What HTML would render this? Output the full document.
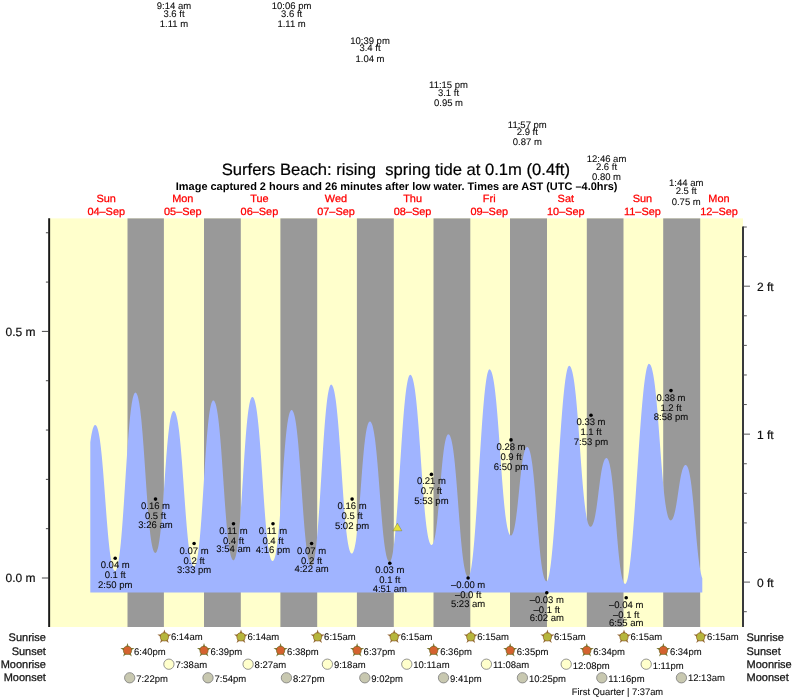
<!DOCTYPE html>
<html lang="en"><head><meta charset="utf-8"><title>Surfers Beach tide times</title>
<style>html,body{margin:0;padding:0;background:#fff}body{width:793px;height:699px;overflow:hidden}svg{display:block}text{font-family:"Liberation Sans",sans-serif;text-rendering:geometricPrecision}.s{font-size:9.5px;fill:#0a0a0a;stroke:#0a0a0a;stroke-width:.08px}.ax{font-size:12px;fill:#111;stroke:#111;stroke-width:.2px}.r{font-size:11px;fill:#111;stroke:#111;stroke-width:.25px}.d{font-size:10.5px;fill:#ff0000;stroke:#ff0000;stroke-width:.25px}</style></head><body>
<svg width="793" height="699" viewBox="0 0 793 699">
<rect width="793" height="699" fill="#fff"/>
<rect x="49.15" y="218.4" width="693.85" height="408.6" fill="#ffffcc"/>
<rect x="127.5" y="218.4" width="36.4" height="408.6" fill="#999999"/>
<rect x="204.0" y="218.4" width="36.8" height="408.6" fill="#999999"/>
<rect x="280.4" y="218.4" width="36.8" height="408.6" fill="#999999"/>
<rect x="356.9" y="218.4" width="36.9" height="408.6" fill="#999999"/>
<rect x="433.5" y="218.4" width="36.8" height="408.6" fill="#999999"/>
<rect x="510.0" y="218.4" width="37.0" height="408.6" fill="#999999"/>
<rect x="586.8" y="218.4" width="36.7" height="408.6" fill="#999999"/>
<rect x="663.2" y="218.4" width="37.0" height="408.6" fill="#999999"/>
<path d="M90.3,592.6 L90.3,442.3 L90.8,438.7 L91.3,435.6 L91.8,432.9 L92.3,430.7 L92.8,428.8 L93.3,427.4 L93.8,426.3 L94.3,425.5 L94.8,425.1 L95.3,425.0 L95.8,425.2 L96.3,425.7 L96.8,426.6 L97.3,427.8 L97.8,429.3 L98.3,431.2 L98.8,433.5 L99.3,436.2 L99.8,439.3 L100.3,442.9 L100.8,446.9 L101.3,451.4 L101.8,456.3 L102.3,461.7 L102.8,467.4 L103.3,473.5 L103.8,479.9 L104.3,486.5 L104.8,493.2 L105.3,500.0 L105.8,506.8 L106.3,513.4 L106.8,519.9 L107.3,526.1 L107.8,532.0 L108.3,537.5 L108.8,542.6 L109.3,547.3 L109.8,551.5 L110.3,555.2 L110.8,558.5 L111.3,561.4 L111.8,563.8 L112.3,565.9 L112.8,567.6 L113.3,568.9 L113.8,569.9 L114.3,570.5 L114.8,570.8 L115.3,570.9 L115.8,570.5 L116.3,569.7 L116.8,568.6 L117.3,567.0 L117.8,565.0 L118.3,562.5 L118.8,559.5 L119.3,556.1 L119.8,552.2 L120.3,547.8 L120.8,542.9 L121.3,537.5 L121.8,531.6 L122.3,525.3 L122.8,518.6 L123.3,511.5 L123.8,504.2 L124.3,496.6 L124.8,488.8 L125.3,481.0 L125.8,473.1 L126.3,465.4 L126.8,457.8 L127.3,450.5 L127.8,443.5 L128.3,436.9 L128.8,430.7 L129.3,424.9 L129.8,419.6 L130.3,414.8 L130.8,410.5 L131.3,406.7 L131.8,403.3 L132.3,400.5 L132.8,398.1 L133.3,396.2 L133.8,394.7 L134.3,393.6 L134.8,392.9 L135.3,392.6 L135.8,392.7 L136.3,393.1 L136.8,393.9 L137.3,395.1 L137.8,396.6 L138.3,398.5 L138.8,400.9 L139.3,403.6 L139.8,406.9 L140.3,410.6 L140.8,414.9 L141.3,419.6 L141.8,424.8 L142.3,430.5 L142.8,436.7 L143.3,443.2 L143.8,450.1 L144.3,457.3 L144.8,464.6 L145.3,472.1 L145.8,479.5 L146.3,486.9 L146.8,494.1 L147.3,501.0 L147.8,507.7 L148.3,513.9 L148.8,519.7 L149.3,525.0 L149.8,529.8 L150.3,534.2 L150.8,538.0 L151.3,541.4 L151.8,544.2 L152.3,546.7 L152.8,548.7 L153.3,550.3 L153.8,551.5 L154.3,552.3 L154.8,552.8 L155.3,553.0 L155.8,552.8 L156.3,552.3 L156.8,551.4 L157.3,550.1 L157.8,548.5 L158.3,546.4 L158.8,543.8 L159.3,540.8 L159.8,537.3 L160.3,533.2 L160.8,528.7 L161.3,523.6 L161.8,518.1 L162.3,512.1 L162.8,505.7 L163.3,498.9 L163.8,492.0 L164.3,484.9 L164.8,477.7 L165.3,470.6 L165.8,463.7 L166.3,457.0 L166.8,450.7 L167.3,444.8 L167.8,439.3 L168.3,434.4 L168.8,429.9 L169.3,426.0 L169.8,422.6 L170.3,419.6 L170.8,417.2 L171.3,415.2 L171.8,413.6 L172.3,412.4 L172.8,411.6 L173.3,411.1 L173.8,411.0 L174.3,411.2 L174.8,411.8 L175.3,412.6 L175.8,413.8 L176.3,415.3 L176.8,417.3 L177.3,419.6 L177.8,422.3 L178.3,425.5 L178.8,429.1 L179.3,433.1 L179.8,437.7 L180.3,442.7 L180.8,448.1 L181.3,453.9 L181.8,460.1 L182.3,466.6 L182.8,473.4 L183.3,480.3 L183.8,487.4 L184.3,494.4 L184.8,501.4 L185.3,508.3 L185.8,514.9 L186.3,521.2 L186.8,527.2 L187.3,532.8 L187.8,538.0 L188.3,542.7 L188.8,547.0 L189.3,550.8 L189.8,554.1 L190.3,557.0 L190.8,559.5 L191.3,561.5 L191.8,563.2 L192.3,564.6 L192.8,565.5 L193.3,566.2 L193.8,566.5 L194.3,566.6 L194.8,566.2 L195.3,565.5 L195.8,564.3 L196.3,562.8 L196.8,560.8 L197.3,558.3 L197.8,555.3 L198.3,551.8 L198.8,547.8 L199.3,543.3 L199.8,538.2 L200.3,532.5 L200.8,526.4 L201.3,519.8 L201.8,512.7 L202.3,505.3 L202.8,497.7 L203.3,489.8 L203.8,481.9 L204.3,474.0 L204.8,466.2 L205.3,458.7 L205.8,451.4 L206.3,444.5 L206.8,438.1 L207.3,432.1 L207.8,426.7 L208.3,421.8 L208.8,417.5 L209.3,413.7 L209.8,410.4 L210.3,407.7 L210.8,405.4 L211.3,403.6 L211.8,402.2 L212.3,401.2 L212.8,400.6 L213.3,400.4 L213.8,400.6 L214.3,401.1 L214.8,401.9 L215.3,403.1 L215.8,404.6 L216.3,406.6 L216.8,409.0 L217.3,411.8 L217.8,415.0 L218.3,418.8 L218.8,423.0 L219.3,427.7 L219.8,432.9 L220.3,438.6 L220.8,444.6 L221.3,451.1 L221.8,457.9 L222.3,465.0 L222.8,472.3 L223.3,479.6 L223.8,487.0 L224.3,494.3 L224.8,501.4 L225.3,508.2 L225.8,514.8 L226.3,521.0 L226.8,526.7 L227.3,532.0 L227.8,536.8 L228.3,541.1 L228.8,545.0 L229.3,548.3 L229.8,551.2 L230.3,553.7 L230.8,555.7 L231.3,557.3 L231.8,558.6 L232.3,559.5 L232.8,560.1 L233.3,560.3 L233.8,560.2 L234.3,559.7 L234.8,558.8 L235.3,557.5 L235.8,555.8 L236.3,553.6 L236.8,550.9 L237.3,547.8 L237.8,544.1 L238.3,539.8 L238.8,535.1 L239.3,529.7 L239.8,523.8 L240.3,517.5 L240.8,510.6 L241.3,503.4 L241.8,495.9 L242.3,488.1 L242.8,480.2 L243.3,472.3 L243.8,464.4 L244.3,456.8 L244.8,449.4 L245.3,442.4 L245.8,435.8 L246.3,429.8 L246.8,424.2 L247.3,419.2 L247.8,414.8 L248.3,410.8 L248.8,407.5 L249.3,404.6 L249.8,402.3 L250.3,400.3 L250.8,398.9 L251.3,397.8 L251.8,397.2 L252.3,396.9 L252.8,397.0 L253.3,397.5 L253.8,398.2 L254.3,399.4 L254.8,400.9 L255.3,402.9 L255.8,405.2 L256.3,408.0 L256.8,411.2 L257.3,415.0 L257.8,419.2 L258.3,423.9 L258.8,429.1 L259.3,434.7 L259.8,440.8 L260.3,447.3 L260.8,454.1 L261.3,461.2 L261.8,468.6 L262.3,476.0 L262.8,483.5 L263.3,490.9 L263.8,498.2 L264.3,505.3 L264.8,512.0 L265.3,518.5 L265.8,524.5 L266.3,530.0 L266.8,535.1 L267.3,539.7 L267.8,543.8 L268.3,547.4 L268.8,550.6 L269.3,553.3 L269.8,555.6 L270.3,557.4 L270.8,558.9 L271.3,559.9 L271.8,560.7 L272.3,561.0 L272.8,561.1 L273.3,560.8 L273.8,560.1 L274.3,559.1 L274.8,557.6 L275.3,555.8 L275.8,553.6 L276.3,550.8 L276.8,547.6 L277.3,544.0 L277.8,539.7 L278.3,535.0 L278.8,529.8 L279.3,524.1 L279.8,517.9 L280.3,511.3 L280.8,504.4 L281.3,497.3 L281.8,490.0 L282.3,482.6 L282.8,475.3 L283.3,468.1 L283.8,461.1 L284.3,454.5 L284.8,448.2 L285.3,442.4 L285.8,437.1 L286.3,432.3 L286.8,427.9 L287.3,424.1 L287.8,420.9 L288.3,418.0 L288.8,415.7 L289.3,413.8 L289.8,412.3 L290.3,411.2 L290.8,410.4 L291.3,410.1 L291.8,410.0 L292.3,410.3 L292.8,410.9 L293.3,411.9 L293.8,413.3 L294.3,415.0 L294.8,417.1 L295.3,419.6 L295.8,422.6 L296.3,426.0 L296.8,429.9 L297.3,434.4 L297.8,439.3 L298.3,444.6 L298.8,450.4 L299.3,456.7 L299.8,463.2 L300.3,470.1 L300.8,477.2 L301.3,484.4 L301.8,491.7 L302.3,498.9 L302.8,506.0 L303.3,512.9 L303.8,519.4 L304.3,525.7 L304.8,531.5 L305.3,536.8 L305.8,541.7 L306.3,546.2 L306.8,550.1 L307.3,553.5 L307.8,556.5 L308.3,559.0 L308.8,561.1 L309.3,562.8 L309.8,564.2 L310.3,565.2 L310.8,565.8 L311.3,566.1 L311.8,566.0 L312.3,565.5 L312.8,564.6 L313.3,563.2 L313.8,561.4 L314.3,559.1 L314.8,556.2 L315.3,552.9 L315.8,549.1 L316.3,544.7 L316.8,539.8 L317.3,534.3 L317.8,528.4 L318.3,522.0 L318.8,515.1 L319.3,507.8 L319.8,500.2 L320.3,492.4 L320.8,484.3 L321.3,476.2 L321.8,468.0 L322.3,459.9 L322.8,452.0 L323.3,444.4 L323.8,437.0 L324.3,430.1 L324.8,423.5 L325.3,417.5 L325.8,412.0 L326.3,406.9 L326.8,402.5 L327.3,398.5 L327.8,395.1 L328.3,392.2 L328.8,389.7 L329.3,387.8 L329.8,386.3 L330.3,385.3 L330.8,384.7 L331.3,384.6 L331.8,384.9 L332.3,385.5 L332.8,386.4 L333.3,387.7 L333.8,389.5 L334.3,391.6 L334.8,394.2 L335.3,397.2 L335.8,400.6 L336.3,404.6 L336.8,409.0 L337.3,413.9 L337.8,419.2 L338.3,425.0 L338.8,431.3 L339.3,437.9 L339.8,444.8 L340.3,452.0 L340.8,459.4 L341.3,466.8 L341.8,474.4 L342.3,481.8 L342.8,489.1 L343.3,496.2 L343.8,503.0 L344.3,509.5 L344.8,515.5 L345.3,521.2 L345.8,526.4 L346.3,531.1 L346.8,535.3 L347.3,539.0 L347.8,542.3 L348.3,545.1 L348.8,547.5 L349.3,549.5 L349.8,551.0 L350.3,552.2 L350.8,553.0 L351.3,553.5 L351.8,553.6 L352.3,553.4 L352.8,552.8 L353.3,551.9 L353.8,550.6 L354.3,548.9 L354.8,546.8 L355.3,544.3 L355.8,541.4 L356.3,537.9 L356.8,533.9 L357.3,529.5 L357.8,524.6 L358.3,519.2 L358.8,513.4 L359.3,507.3 L359.8,500.9 L360.3,494.3 L360.8,487.5 L361.3,480.8 L361.8,474.2 L362.3,467.8 L362.8,461.7 L363.3,455.9 L363.8,450.5 L364.3,445.6 L364.8,441.2 L365.3,437.2 L365.8,433.7 L366.3,430.8 L366.8,428.3 L367.3,426.2 L367.8,424.5 L368.3,423.2 L368.8,422.3 L369.3,421.7 L369.8,421.5 L370.3,421.6 L370.8,422.0 L371.3,422.7 L371.8,423.7 L372.3,425.1 L372.8,426.8 L373.3,429.0 L373.8,431.5 L374.3,434.4 L374.8,437.8 L375.3,441.6 L375.8,445.9 L376.3,450.7 L376.8,455.8 L377.3,461.4 L377.8,467.3 L378.3,473.5 L378.8,479.9 L379.3,486.4 L379.8,493.1 L380.3,499.7 L380.8,506.2 L381.3,512.6 L381.8,518.6 L382.3,524.4 L382.8,529.8 L383.3,534.8 L383.8,539.3 L384.3,543.4 L384.8,547.1 L385.3,550.3 L385.8,553.1 L386.3,555.4 L386.8,557.4 L387.3,559.0 L387.8,560.2 L388.3,561.1 L388.8,561.7 L389.3,562.0 L389.8,561.9 L390.3,561.5 L390.8,560.6 L391.3,559.3 L391.8,557.5 L392.3,555.3 L392.8,552.7 L393.3,549.5 L393.8,545.9 L394.3,541.9 L394.8,537.3 L395.3,532.3 L395.8,526.7 L396.3,520.8 L396.8,514.4 L397.3,507.7 L397.8,500.6 L398.3,493.2 L398.8,485.6 L399.3,477.8 L399.8,469.9 L400.3,462.1 L400.8,454.2 L401.3,446.6 L401.8,439.1 L402.3,431.8 L402.8,424.9 L403.3,418.4 L403.8,412.3 L404.3,406.6 L404.8,401.4 L405.3,396.6 L405.8,392.3 L406.3,388.5 L406.8,385.2 L407.3,382.4 L407.8,380.0 L408.3,378.1 L408.8,376.6 L409.3,375.5 L409.8,374.9 L410.3,374.7 L410.8,374.9 L411.3,375.4 L411.8,376.2 L412.3,377.4 L412.8,379.0 L413.3,380.9 L413.8,383.2 L414.3,386.0 L414.8,389.1 L415.3,392.7 L415.8,396.8 L416.3,401.3 L416.8,406.2 L417.3,411.6 L417.8,417.4 L418.3,423.6 L418.8,430.1 L419.3,436.9 L419.8,443.9 L420.3,451.1 L420.8,458.4 L421.3,465.7 L421.8,472.9 L422.3,480.0 L422.8,486.9 L423.3,493.5 L423.8,499.9 L424.3,505.8 L424.8,511.4 L425.3,516.5 L425.8,521.2 L426.3,525.4 L426.8,529.2 L427.3,532.5 L427.8,535.4 L428.3,537.9 L428.8,540.0 L429.3,541.7 L429.8,543.1 L430.3,544.0 L430.8,544.7 L431.3,545.0 L431.8,544.9 L432.3,544.6 L432.8,543.9 L433.3,542.9 L433.8,541.5 L434.3,539.7 L434.8,537.4 L435.3,534.8 L435.8,531.6 L436.3,528.0 L436.8,524.0 L437.3,519.4 L437.8,514.4 L438.3,509.1 L438.8,503.4 L439.3,497.5 L439.8,491.5 L440.3,485.4 L440.8,479.4 L441.3,473.6 L441.8,468.0 L442.3,462.8 L442.8,458.0 L443.3,453.7 L443.8,449.8 L444.3,446.3 L444.8,443.4 L445.3,440.9 L445.8,438.9 L446.3,437.2 L446.8,436.0 L447.3,435.1 L447.8,434.5 L448.3,434.3 L448.8,434.4 L449.3,434.8 L449.8,435.5 L450.3,436.5 L450.8,437.9 L451.3,439.6 L451.8,441.7 L452.3,444.2 L452.8,447.1 L453.3,450.5 L453.8,454.3 L454.3,458.6 L454.8,463.3 L455.3,468.4 L455.8,473.9 L456.3,479.8 L456.8,486.0 L457.3,492.4 L457.8,499.0 L458.3,505.7 L458.8,512.3 L459.3,518.9 L459.8,525.3 L460.3,531.5 L460.8,537.4 L461.3,542.9 L461.8,548.0 L462.3,552.7 L462.8,557.0 L463.3,560.8 L463.8,564.2 L464.3,567.1 L464.8,569.6 L465.3,571.7 L465.8,573.4 L466.3,574.8 L466.8,575.8 L467.3,576.5 L467.8,576.9 L468.3,577.0 L468.8,576.6 L469.3,575.8 L469.8,574.5 L470.3,572.6 L470.8,570.3 L471.3,567.5 L471.8,564.1 L472.3,560.3 L472.8,556.0 L473.3,551.2 L473.8,545.9 L474.3,540.2 L474.8,534.1 L475.3,527.5 L475.8,520.6 L476.3,513.4 L476.8,505.9 L477.3,498.1 L477.8,490.2 L478.3,482.1 L478.8,474.0 L479.3,465.8 L479.8,457.7 L480.3,449.8 L480.8,442.0 L481.3,434.4 L481.8,427.1 L482.3,420.1 L482.8,413.5 L483.3,407.3 L483.8,401.5 L484.3,396.1 L484.8,391.2 L485.3,386.8 L485.8,382.9 L486.3,379.5 L486.8,376.5 L487.3,374.1 L487.8,372.2 L488.3,370.7 L488.8,369.8 L489.3,369.3 L489.8,369.4 L490.3,369.7 L490.8,370.4 L491.3,371.4 L491.8,372.7 L492.3,374.4 L492.8,376.4 L493.3,378.9 L493.8,381.8 L494.3,385.0 L494.8,388.7 L495.3,392.9 L495.8,397.5 L496.3,402.5 L496.8,408.0 L497.3,413.8 L497.8,420.0 L498.3,426.6 L498.8,433.3 L499.3,440.3 L499.8,447.4 L500.3,454.5 L500.8,461.7 L501.3,468.7 L501.8,475.6 L502.3,482.2 L502.8,488.5 L503.3,494.5 L503.8,500.1 L504.3,505.3 L504.8,510.1 L505.3,514.4 L505.8,518.3 L506.3,521.8 L506.8,524.8 L507.3,527.4 L507.8,529.6 L508.3,531.5 L508.8,532.9 L509.3,534.1 L509.8,534.9 L510.3,535.3 L510.8,535.5 L511.3,535.4 L511.8,534.9 L512.3,534.2 L512.8,533.2 L513.3,531.9 L513.8,530.2 L514.3,528.2 L514.8,525.8 L515.3,522.9 L515.8,519.7 L516.3,516.0 L516.8,512.0 L517.3,507.7 L517.8,503.0 L518.3,498.2 L518.8,493.2 L519.3,488.3 L519.8,483.3 L520.3,478.5 L520.8,473.9 L521.3,469.6 L521.8,465.7 L522.3,462.1 L522.8,459.0 L523.3,456.2 L523.8,453.9 L524.3,451.9 L524.8,450.3 L525.3,449.0 L525.8,448.1 L526.3,447.4 L526.8,447.1 L527.3,447.0 L527.8,447.2 L528.3,447.7 L528.8,448.6 L529.3,449.7 L529.8,451.2 L530.3,453.1 L530.8,455.3 L531.3,458.0 L531.8,461.1 L532.3,464.6 L532.8,468.6 L533.3,473.0 L533.8,477.8 L534.3,483.1 L534.8,488.7 L535.3,494.6 L535.8,500.7 L536.3,507.1 L536.8,513.5 L537.3,519.9 L537.8,526.3 L538.3,532.5 L538.8,538.5 L539.3,544.2 L539.8,549.5 L540.3,554.4 L540.8,558.9 L541.3,563.0 L541.8,566.6 L542.3,569.7 L542.8,572.5 L543.3,574.8 L543.8,576.8 L544.3,578.3 L544.8,579.5 L545.3,580.4 L545.8,581.0 L546.3,581.3 L546.8,581.2 L547.3,580.7 L547.8,579.7 L548.3,578.2 L548.8,576.3 L549.3,573.9 L549.8,571.1 L550.3,567.8 L550.8,564.0 L551.3,559.8 L551.8,555.1 L552.3,550.1 L552.8,544.6 L553.3,538.8 L553.8,532.6 L554.3,526.1 L554.8,519.3 L555.3,512.2 L555.8,504.9 L556.3,497.4 L556.8,489.8 L557.3,482.1 L557.8,474.3 L558.3,466.6 L558.8,458.8 L559.3,451.2 L559.8,443.7 L560.3,436.3 L560.8,429.2 L561.3,422.3 L561.8,415.8 L562.3,409.5 L562.8,403.6 L563.3,398.1 L563.8,392.9 L564.3,388.2 L564.8,383.9 L565.3,380.1 L565.8,376.7 L566.3,373.7 L566.8,371.2 L567.3,369.2 L567.8,367.6 L568.3,366.6 L568.8,366.0 L569.3,365.8 L569.8,366.0 L570.3,366.5 L570.8,367.3 L571.3,368.5 L571.8,369.9 L572.3,371.7 L572.8,373.9 L573.3,376.5 L573.8,379.4 L574.3,382.8 L574.8,386.7 L575.3,390.9 L575.8,395.6 L576.3,400.7 L576.8,406.3 L577.3,412.2 L577.8,418.4 L578.3,425.0 L578.8,431.7 L579.3,438.6 L579.8,445.6 L580.3,452.6 L580.8,459.5 L581.3,466.3 L581.8,472.9 L582.3,479.2 L582.8,485.2 L583.3,490.8 L583.8,496.0 L584.3,500.8 L584.8,505.1 L585.3,509.0 L585.8,512.5 L586.3,515.6 L586.8,518.2 L587.3,520.5 L587.8,522.4 L588.3,523.9 L588.8,525.1 L589.3,525.9 L589.8,526.5 L590.3,526.8 L590.8,526.8 L591.3,526.5 L591.8,526.0 L592.3,525.3 L592.8,524.3 L593.3,523.1 L593.8,521.5 L594.3,519.7 L594.8,517.5 L595.3,514.9 L595.8,512.1 L596.3,508.9 L596.8,505.5 L597.3,501.8 L597.8,497.9 L598.3,494.0 L598.8,490.0 L599.3,486.1 L599.8,482.3 L600.3,478.6 L600.8,475.2 L601.3,472.1 L601.8,469.3 L602.3,466.9 L602.8,464.7 L603.3,462.9 L603.8,461.4 L604.3,460.2 L604.8,459.3 L605.3,458.7 L605.8,458.2 L606.3,458.0 L606.8,458.1 L607.3,458.4 L607.8,459.0 L608.3,460.0 L608.8,461.3 L609.3,462.9 L609.8,464.9 L610.3,467.4 L610.8,470.2 L611.3,473.5 L611.8,477.2 L612.3,481.4 L612.8,486.0 L613.3,491.0 L613.8,496.3 L614.3,502.0 L614.8,508.0 L615.3,514.1 L615.8,520.3 L616.3,526.6 L616.8,532.7 L617.3,538.7 L617.8,544.4 L618.3,549.9 L618.8,555.0 L619.3,559.6 L619.8,563.9 L620.3,567.7 L620.8,571.1 L621.3,574.0 L621.8,576.5 L622.3,578.6 L622.8,580.3 L623.3,581.7 L623.8,582.7 L624.3,583.4 L624.8,583.8 L625.3,583.9 L625.8,583.6 L626.3,582.8 L626.8,581.6 L627.3,580.0 L627.8,577.9 L628.3,575.3 L628.8,572.4 L629.3,569.0 L629.8,565.2 L630.3,561.0 L630.8,556.4 L631.3,551.4 L631.8,546.0 L632.3,540.4 L632.8,534.4 L633.3,528.1 L633.8,521.5 L634.3,514.7 L634.8,507.7 L635.3,500.5 L635.8,493.2 L636.3,485.8 L636.8,478.3 L637.3,470.9 L637.8,463.4 L638.3,455.9 L638.8,448.6 L639.3,441.4 L639.8,434.4 L640.3,427.5 L640.8,420.9 L641.3,414.6 L641.8,408.5 L642.3,402.8 L642.8,397.4 L643.3,392.3 L643.8,387.6 L644.3,383.3 L644.8,379.5 L645.3,376.0 L645.8,372.9 L646.3,370.3 L646.8,368.1 L647.3,366.4 L647.8,365.1 L648.3,364.2 L648.8,363.8 L649.3,363.9 L649.8,364.2 L650.3,364.7 L650.8,365.6 L651.3,366.8 L651.8,368.3 L652.3,370.2 L652.8,372.4 L653.3,374.9 L653.8,377.9 L654.3,381.3 L654.8,385.0 L655.3,389.2 L655.8,393.8 L656.3,398.8 L656.8,404.2 L657.3,409.9 L657.8,416.0 L658.3,422.3 L658.8,428.8 L659.3,435.4 L659.8,442.1 L660.3,448.8 L660.8,455.4 L661.3,461.9 L661.8,468.2 L662.3,474.3 L662.8,480.0 L663.3,485.4 L663.8,490.4 L664.3,495.0 L664.8,499.2 L665.3,502.9 L665.8,506.3 L666.3,509.3 L666.8,511.8 L667.3,514.0 L667.8,515.9 L668.3,517.4 L668.8,518.6 L669.3,519.5 L669.8,520.0 L670.3,520.3 L670.8,520.4 L671.3,520.2 L671.8,519.8 L672.3,519.2 L672.8,518.4 L673.3,517.3 L673.8,515.9 L674.3,514.2 L674.8,512.3 L675.3,510.0 L675.8,507.5 L676.3,504.7 L676.8,501.6 L677.3,498.4 L677.8,495.1 L678.3,491.7 L678.8,488.3 L679.3,485.0 L679.8,481.9 L680.3,479.0 L680.8,476.3 L681.3,474.0 L681.8,471.9 L682.3,470.1 L682.8,468.7 L683.3,467.4 L683.8,466.5 L684.3,465.8 L684.8,465.3 L685.3,465.1 L685.8,465.0 L686.3,465.2 L686.8,465.7 L687.3,466.4 L687.8,467.5 L688.3,468.8 L688.8,470.5 L689.3,472.6 L689.8,475.0 L690.3,477.9 L690.8,481.1 L691.3,484.7 L691.8,488.7 L692.3,493.2 L692.8,497.9 L693.3,503.0 L693.8,508.4 L694.3,513.9 L694.8,519.6 L695.3,525.3 L695.8,531.0 L696.3,536.5 L696.8,541.9 L697.3,547.1 L697.8,551.9 L698.3,556.4 L698.8,560.5 L699.3,564.2 L699.8,567.5 L700.3,570.4 L700.8,572.9 L701.3,575.1 L701.8,576.9 L702.3,578.3 L702.3,592.6 Z" fill="#a0b4ff"/>
<g stroke="#111" fill="none">
<line x1="49.15" y1="218.3" x2="49.15" y2="627.0" stroke-width="1.95" stroke="#1a1a18"/>
<line x1="743.00" y1="226.6" x2="743.00" y2="627.0" stroke-width="2" stroke="#38393c"/>
<line x1="41.9" y1="578.00" x2="49.1" y2="578.00" stroke-width="0.9" stroke="#333"/>
<line x1="45.9" y1="528.68" x2="49.1" y2="528.68" stroke-width="0.9" stroke="#333"/>
<line x1="45.9" y1="479.36" x2="49.1" y2="479.36" stroke-width="0.9" stroke="#333"/>
<line x1="45.9" y1="430.04" x2="49.1" y2="430.04" stroke-width="0.9" stroke="#333"/>
<line x1="45.9" y1="380.72" x2="49.1" y2="380.72" stroke-width="0.9" stroke="#333"/>
<line x1="41.9" y1="331.40" x2="49.1" y2="331.40" stroke-width="0.9" stroke="#333"/>
<line x1="45.9" y1="282.08" x2="49.1" y2="282.08" stroke-width="0.9" stroke="#333"/>
<line x1="45.9" y1="232.76" x2="49.1" y2="232.76" stroke-width="0.9" stroke="#333"/>
<line x1="743.0" y1="611.69" x2="746.8" y2="611.69" stroke-width="0.9" stroke="#444"/>
<line x1="743.0" y1="582.10" x2="750.0" y2="582.10" stroke-width="0.9" stroke="#444"/>
<line x1="743.0" y1="552.51" x2="746.8" y2="552.51" stroke-width="0.9" stroke="#444"/>
<line x1="743.0" y1="522.92" x2="746.8" y2="522.92" stroke-width="0.9" stroke="#444"/>
<line x1="743.0" y1="493.33" x2="746.8" y2="493.33" stroke-width="0.9" stroke="#444"/>
<line x1="743.0" y1="463.74" x2="746.8" y2="463.74" stroke-width="0.9" stroke="#444"/>
<line x1="743.0" y1="434.15" x2="750.0" y2="434.15" stroke-width="0.9" stroke="#444"/>
<line x1="743.0" y1="404.56" x2="746.8" y2="404.56" stroke-width="0.9" stroke="#444"/>
<line x1="743.0" y1="374.97" x2="746.8" y2="374.97" stroke-width="0.9" stroke="#444"/>
<line x1="743.0" y1="345.38" x2="746.8" y2="345.38" stroke-width="0.9" stroke="#444"/>
<line x1="743.0" y1="315.79" x2="746.8" y2="315.79" stroke-width="0.9" stroke="#444"/>
<line x1="743.0" y1="286.20" x2="750.0" y2="286.20" stroke-width="0.9" stroke="#444"/>
<line x1="743.0" y1="256.61" x2="746.8" y2="256.61" stroke-width="0.9" stroke="#444"/>
<line x1="743.0" y1="227.02" x2="746.8" y2="227.02" stroke-width="0.9" stroke="#444"/>
</g>
<text class="ax" x="35.6" y="335.6" text-anchor="end">0.5 m</text>
<text class="ax" x="35.6" y="582.1" text-anchor="end">0.0 m</text>
<text class="ax" x="757.0" y="291.0">2 ft</text>
<text class="ax" x="757.0" y="438.6">1 ft</text>
<text class="ax" x="757.0" y="586.5">0 ft</text>
<text x="221.7" y="175.1" font-size="16.4px" fill="#000" stroke="#000" stroke-width=".2" xml:space="preserve" textLength="348.3" lengthAdjust="spacingAndGlyphs">Surfers Beach: rising  spring tide at 0.1m (0.4ft)</text>
<text x="175.8" y="189.8" font-size="11px" font-weight="bold" fill="#000" textLength="441.7" lengthAdjust="spacingAndGlyphs">Image captured 2 hours and 26 minutes after low water. Times are AST (UTC –4.0hrs)</text>
<text class="d" transform="translate(106.2 202.3) scale(1.040 1)" text-anchor="middle">Sun</text>
<text class="d" transform="translate(106.2 214.6) scale(1.040 1)" text-anchor="middle">04–Sep</text>
<text class="d" transform="translate(182.8 202.3) scale(1.040 1)" text-anchor="middle">Mon</text>
<text class="d" transform="translate(182.8 214.6) scale(1.040 1)" text-anchor="middle">05–Sep</text>
<text class="d" transform="translate(259.4 202.3) scale(1.040 1)" text-anchor="middle">Tue</text>
<text class="d" transform="translate(259.4 214.6) scale(1.040 1)" text-anchor="middle">06–Sep</text>
<text class="d" transform="translate(336.0 202.3) scale(1.040 1)" text-anchor="middle">Wed</text>
<text class="d" transform="translate(336.0 214.6) scale(1.040 1)" text-anchor="middle">07–Sep</text>
<text class="d" transform="translate(412.6 202.3) scale(1.040 1)" text-anchor="middle">Thu</text>
<text class="d" transform="translate(412.6 214.6) scale(1.040 1)" text-anchor="middle">08–Sep</text>
<text class="d" transform="translate(489.2 202.3) scale(1.040 1)" text-anchor="middle">Fri</text>
<text class="d" transform="translate(489.2 214.6) scale(1.040 1)" text-anchor="middle">09–Sep</text>
<text class="d" transform="translate(565.8 202.3) scale(1.040 1)" text-anchor="middle">Sat</text>
<text class="d" transform="translate(565.8 214.6) scale(1.040 1)" text-anchor="middle">10–Sep</text>
<text class="d" transform="translate(642.4 202.3) scale(1.040 1)" text-anchor="middle">Sun</text>
<text class="d" transform="translate(642.4 214.6) scale(1.040 1)" text-anchor="middle">11–Sep</text>
<text class="d" transform="translate(719.0 202.3) scale(1.040 1)" text-anchor="middle">Mon</text>
<text class="d" transform="translate(719.0 214.6) scale(1.040 1)" text-anchor="middle">12–Sep</text>
<text class="s" x="174.0" y="8.6" text-anchor="middle">9:14 am</text>
<text class="s" x="174.0" y="16.8" text-anchor="middle">3.6 ft</text>
<text class="s" x="174.0" y="27.0" text-anchor="middle">1.11 m</text>
<text class="s" x="291.6" y="9.1" text-anchor="middle">10:06 pm</text>
<text class="s" x="291.6" y="16.8" text-anchor="middle">3.6 ft</text>
<text class="s" x="291.6" y="27.0" text-anchor="middle">1.11 m</text>
<text class="s" x="370.0" y="43.7" text-anchor="middle">10:39 pm</text>
<text class="s" x="370.0" y="51.4" text-anchor="middle">3.4 ft</text>
<text class="s" x="370.0" y="61.6" text-anchor="middle">1.04 m</text>
<text class="s" x="448.5" y="88.1" text-anchor="middle">11:15 pm</text>
<text class="s" x="448.5" y="95.8" text-anchor="middle">3.1 ft</text>
<text class="s" x="448.5" y="106.0" text-anchor="middle">0.95 m</text>
<text class="s" x="527.3" y="127.5" text-anchor="middle">11:57 pm</text>
<text class="s" x="527.3" y="135.2" text-anchor="middle">2.9 ft</text>
<text class="s" x="527.3" y="145.4" text-anchor="middle">0.87 m</text>
<text class="s" x="606.5" y="161.5" text-anchor="middle">12:46 am</text>
<text class="s" x="606.5" y="169.7" text-anchor="middle">2.6 ft</text>
<text class="s" x="606.5" y="179.9" text-anchor="middle">0.80 m</text>
<text class="s" x="686.2" y="186.2" text-anchor="middle">1:44 am</text>
<text class="s" x="686.2" y="194.4" text-anchor="middle">2.5 ft</text>
<text class="s" x="686.2" y="204.6" text-anchor="middle">0.75 m</text>
<circle cx="115.2" cy="558.3" r="1.8" fill="#000"/>
<text class="s" x="115.2" y="568.3" text-anchor="middle">0.04 m</text>
<text class="s" x="115.2" y="578.3" text-anchor="middle">0.1 ft</text>
<text class="s" x="115.2" y="588.0" text-anchor="middle">2:50 pm</text>
<circle cx="155.5" cy="499.1" r="1.8" fill="#000"/>
<text class="s" x="155.5" y="509.1" text-anchor="middle">0.16 m</text>
<text class="s" x="155.5" y="519.1" text-anchor="middle">0.5 ft</text>
<text class="s" x="155.5" y="527.6" text-anchor="middle">3:26 am</text>
<circle cx="194.1" cy="543.5" r="1.8" fill="#000"/>
<text class="s" x="194.1" y="553.5" text-anchor="middle">0.07 m</text>
<text class="s" x="194.1" y="563.5" text-anchor="middle">0.2 ft</text>
<text class="s" x="194.1" y="573.2" text-anchor="middle">3:33 pm</text>
<circle cx="233.5" cy="523.7" r="1.8" fill="#000"/>
<text class="s" x="233.5" y="533.7" text-anchor="middle">0.11 m</text>
<text class="s" x="233.5" y="543.7" text-anchor="middle">0.4 ft</text>
<text class="s" x="233.5" y="552.2" text-anchor="middle">3:54 am</text>
<circle cx="273.0" cy="523.7" r="1.8" fill="#000"/>
<text class="s" x="273.0" y="533.7" text-anchor="middle">0.11 m</text>
<text class="s" x="273.0" y="543.7" text-anchor="middle">0.4 ft</text>
<text class="s" x="273.0" y="553.4" text-anchor="middle">4:16 pm</text>
<circle cx="311.6" cy="543.5" r="1.8" fill="#000"/>
<text class="s" x="311.6" y="553.5" text-anchor="middle">0.07 m</text>
<text class="s" x="311.6" y="563.5" text-anchor="middle">0.2 ft</text>
<text class="s" x="311.6" y="572.0" text-anchor="middle">4:22 am</text>
<circle cx="352.1" cy="499.1" r="1.8" fill="#000"/>
<text class="s" x="352.1" y="509.1" text-anchor="middle">0.16 m</text>
<text class="s" x="352.1" y="519.1" text-anchor="middle">0.5 ft</text>
<text class="s" x="352.1" y="528.8" text-anchor="middle">5:02 pm</text>
<circle cx="389.8" cy="563.2" r="1.8" fill="#000"/>
<text class="s" x="389.8" y="573.2" text-anchor="middle">0.03 m</text>
<text class="s" x="389.8" y="583.2" text-anchor="middle">0.1 ft</text>
<text class="s" x="389.8" y="591.7" text-anchor="middle">4:51 am</text>
<circle cx="431.4" cy="474.4" r="1.8" fill="#000"/>
<text class="s" x="431.4" y="484.4" text-anchor="middle">0.21 m</text>
<text class="s" x="431.4" y="494.4" text-anchor="middle">0.7 ft</text>
<text class="s" x="431.4" y="504.1" text-anchor="middle">5:53 pm</text>
<circle cx="468.1" cy="578.0" r="1.8" fill="#000"/>
<text class="s" x="468.1" y="588.0" text-anchor="middle">–0.00 m</text>
<text class="s" x="468.1" y="598.0" text-anchor="middle">–0.0 ft</text>
<text class="s" x="468.1" y="606.5" text-anchor="middle">5:23 am</text>
<circle cx="511.0" cy="439.9" r="1.8" fill="#000"/>
<text class="s" x="511.0" y="449.9" text-anchor="middle">0.28 m</text>
<text class="s" x="511.0" y="459.9" text-anchor="middle">0.9 ft</text>
<text class="s" x="511.0" y="469.6" text-anchor="middle">6:50 pm</text>
<circle cx="546.8" cy="592.8" r="1.8" fill="#000"/>
<text class="s" x="546.8" y="602.8" text-anchor="middle">–0.03 m</text>
<text class="s" x="546.8" y="612.8" text-anchor="middle">–0.1 ft</text>
<text class="s" x="546.8" y="621.3" text-anchor="middle">6:02 am</text>
<circle cx="591.0" cy="415.2" r="1.8" fill="#000"/>
<text class="s" x="591.0" y="425.2" text-anchor="middle">0.33 m</text>
<text class="s" x="591.0" y="435.2" text-anchor="middle">1.1 ft</text>
<text class="s" x="591.0" y="444.9" text-anchor="middle">7:53 pm</text>
<circle cx="626.2" cy="597.7" r="1.8" fill="#000"/>
<text class="s" x="626.2" y="607.7" text-anchor="middle">–0.04 m</text>
<text class="s" x="626.2" y="617.7" text-anchor="middle">–0.1 ft</text>
<text class="s" x="626.2" y="626.2" text-anchor="middle">6:55 am</text>
<circle cx="671.0" cy="390.6" r="1.8" fill="#000"/>
<text class="s" x="671.0" y="400.6" text-anchor="middle">0.38 m</text>
<text class="s" x="671.0" y="410.6" text-anchor="middle">1.2 ft</text>
<text class="s" x="671.0" y="420.3" text-anchor="middle">8:58 pm</text>
<path d="M397.4,523.2 L401.9,530.8 L392.9,530.8 Z" fill="#e6e03c" stroke="#6b6b2a" stroke-width="0.4"/>
<text class="r" x="45.9" y="640.5" text-anchor="end">Sunrise</text>
<text class="r" x="746.5" y="640.5">Sunrise</text>
<text class="r" x="45.9" y="654.7" text-anchor="end">Sunset</text>
<text class="r" x="746.5" y="654.7">Sunset</text>
<text class="r" x="45.9" y="668.1" text-anchor="end">Moonrise</text>
<text class="r" x="746.5" y="668.1">Moonrise</text>
<text class="r" x="45.9" y="681.3" text-anchor="end">Moonset</text>
<text class="r" x="746.5" y="681.3">Moonset</text>
<polygon points="164.4,629.5 166.1,634.6 171.4,634.6 167.1,637.8 168.7,642.9 164.4,639.7 160.0,642.9 161.7,637.8 157.4,634.6 162.7,634.6" fill="#8a5a22" fill-opacity=".9"/><circle cx="164.4" cy="636.9" r="4.1" fill="#b6b63c" stroke="#8a5a22" stroke-width="0.8" stroke-opacity=".85"/>
<text class="s" x="170.9" y="640.0">6:14am</text>
<polygon points="241.0,629.5 242.7,634.6 248.0,634.6 243.7,637.8 245.3,642.9 241.0,639.7 236.6,642.9 238.3,637.8 234.0,634.6 239.3,634.6" fill="#8a5a22" fill-opacity=".9"/><circle cx="241.0" cy="636.9" r="4.1" fill="#b6b63c" stroke="#8a5a22" stroke-width="0.8" stroke-opacity=".85"/>
<text class="s" x="247.5" y="640.0">6:14am</text>
<polygon points="317.6,629.5 319.3,634.6 324.7,634.6 320.3,637.8 322.0,642.9 317.6,639.7 313.3,642.9 315.0,637.8 310.6,634.6 316.0,634.6" fill="#8a5a22" fill-opacity=".9"/><circle cx="317.6" cy="636.9" r="4.1" fill="#b6b63c" stroke="#8a5a22" stroke-width="0.8" stroke-opacity=".85"/>
<text class="s" x="324.1" y="640.0">6:15am</text>
<polygon points="394.2,629.5 395.9,634.6 401.3,634.6 396.9,637.8 398.6,642.9 394.2,639.7 389.9,642.9 391.6,637.8 387.2,634.6 392.6,634.6" fill="#8a5a22" fill-opacity=".9"/><circle cx="394.2" cy="636.9" r="4.1" fill="#b6b63c" stroke="#8a5a22" stroke-width="0.8" stroke-opacity=".85"/>
<text class="s" x="400.7" y="640.0">6:15am</text>
<polygon points="470.8,629.5 472.5,634.6 477.9,634.6 473.5,637.8 475.2,642.9 470.8,639.7 466.5,642.9 468.2,637.8 463.8,634.6 469.2,634.6" fill="#8a5a22" fill-opacity=".9"/><circle cx="470.8" cy="636.9" r="4.1" fill="#b6b63c" stroke="#8a5a22" stroke-width="0.8" stroke-opacity=".85"/>
<text class="s" x="477.3" y="640.0">6:15am</text>
<polygon points="547.4,629.5 549.1,634.6 554.5,634.6 550.1,637.8 551.8,642.9 547.4,639.7 543.1,642.9 544.8,637.8 540.4,634.6 545.8,634.6" fill="#8a5a22" fill-opacity=".9"/><circle cx="547.4" cy="636.9" r="4.1" fill="#b6b63c" stroke="#8a5a22" stroke-width="0.8" stroke-opacity=".85"/>
<text class="s" x="553.9" y="640.0">6:15am</text>
<polygon points="624.0,629.5 625.7,634.6 631.1,634.6 626.7,637.8 628.4,642.9 624.0,639.7 619.7,642.9 621.4,637.8 617.0,634.6 622.4,634.6" fill="#8a5a22" fill-opacity=".9"/><circle cx="624.0" cy="636.9" r="4.1" fill="#b6b63c" stroke="#8a5a22" stroke-width="0.8" stroke-opacity=".85"/>
<text class="s" x="630.5" y="640.0">6:15am</text>
<polygon points="700.6,629.5 702.3,634.6 707.7,634.6 703.3,637.8 705.0,642.9 700.6,639.7 696.3,642.9 698.0,637.8 693.6,634.6 699.0,634.6" fill="#8a5a22" fill-opacity=".9"/><circle cx="700.6" cy="636.9" r="4.1" fill="#b6b63c" stroke="#8a5a22" stroke-width="0.8" stroke-opacity=".85"/>
<text class="s" x="707.1" y="640.0">6:15am</text>
<polygon points="127.5,643.0 129.1,648.1 134.5,648.1 130.2,651.3 131.8,656.4 127.5,653.2 123.1,656.4 124.8,651.3 120.4,648.1 125.8,648.1" fill="#6e6a20" fill-opacity=".9"/><circle cx="127.5" cy="650.4" r="4.1" fill="#d4622f" stroke="#6e6a20" stroke-width="0.8" stroke-opacity=".85"/>
<text class="s" x="134.0" y="654.7">6:40pm</text>
<polygon points="204.0,643.0 205.7,648.1 211.1,648.1 206.7,651.3 208.4,656.4 204.0,653.2 199.7,656.4 201.3,651.3 197.0,648.1 202.4,648.1" fill="#6e6a20" fill-opacity=".9"/><circle cx="204.0" cy="650.4" r="4.1" fill="#d4622f" stroke="#6e6a20" stroke-width="0.8" stroke-opacity=".85"/>
<text class="s" x="210.5" y="654.7">6:39pm</text>
<polygon points="280.6,643.0 282.2,648.1 287.6,648.1 283.3,651.3 284.9,656.4 280.6,653.2 276.2,656.4 277.9,651.3 273.5,648.1 278.9,648.1" fill="#6e6a20" fill-opacity=".9"/><circle cx="280.6" cy="650.4" r="4.1" fill="#d4622f" stroke="#6e6a20" stroke-width="0.8" stroke-opacity=".85"/>
<text class="s" x="287.1" y="654.7">6:38pm</text>
<polygon points="357.1,643.0 358.8,648.1 364.2,648.1 359.8,651.3 361.5,656.4 357.1,653.2 352.8,656.4 354.4,651.3 350.1,648.1 355.5,648.1" fill="#6e6a20" fill-opacity=".9"/><circle cx="357.1" cy="650.4" r="4.1" fill="#d4622f" stroke="#6e6a20" stroke-width="0.8" stroke-opacity=".85"/>
<text class="s" x="363.6" y="654.7">6:37pm</text>
<polygon points="433.7,643.0 435.3,648.1 440.7,648.1 436.4,651.3 438.0,656.4 433.7,653.2 429.3,656.4 431.0,651.3 426.6,648.1 432.0,648.1" fill="#6e6a20" fill-opacity=".9"/><circle cx="433.7" cy="650.4" r="4.1" fill="#d4622f" stroke="#6e6a20" stroke-width="0.8" stroke-opacity=".85"/>
<text class="s" x="440.2" y="654.7">6:36pm</text>
<polygon points="510.2,643.0 511.9,648.1 517.2,648.1 512.9,651.3 514.6,656.4 510.2,653.2 505.9,656.4 507.5,651.3 503.2,648.1 508.5,648.1" fill="#6e6a20" fill-opacity=".9"/><circle cx="510.2" cy="650.4" r="4.1" fill="#d4622f" stroke="#6e6a20" stroke-width="0.8" stroke-opacity=".85"/>
<text class="s" x="516.7" y="654.7">6:35pm</text>
<polygon points="586.8,643.0 588.4,648.1 593.8,648.1 589.5,651.3 591.1,656.4 586.8,653.2 582.4,656.4 584.1,651.3 579.7,648.1 585.1,648.1" fill="#6e6a20" fill-opacity=".9"/><circle cx="586.8" cy="650.4" r="4.1" fill="#d4622f" stroke="#6e6a20" stroke-width="0.8" stroke-opacity=".85"/>
<text class="s" x="593.3" y="654.7">6:34pm</text>
<polygon points="663.4,643.0 665.0,648.1 670.4,648.1 666.1,651.3 667.7,656.4 663.4,653.2 659.0,656.4 660.7,651.3 656.3,648.1 661.7,648.1" fill="#6e6a20" fill-opacity=".9"/><circle cx="663.4" cy="650.4" r="4.1" fill="#d4622f" stroke="#6e6a20" stroke-width="0.8" stroke-opacity=".85"/>
<text class="s" x="669.9" y="654.7">6:34pm</text>
<circle cx="168.9" cy="664.2" r="5.15" fill="#ffffcc" stroke="#7a7a7a" stroke-width="0.8"/>
<text class="s" x="175.4" y="667.5">7:38am</text>
<circle cx="248.1" cy="664.2" r="5.15" fill="#ffffcc" stroke="#7a7a7a" stroke-width="0.8"/>
<text class="s" x="254.6" y="667.5">8:27am</text>
<circle cx="327.4" cy="664.2" r="5.15" fill="#ffffcc" stroke="#7a7a7a" stroke-width="0.8"/>
<text class="s" x="333.9" y="667.5">9:18am</text>
<circle cx="406.8" cy="664.2" r="5.15" fill="#ffffcc" stroke="#7a7a7a" stroke-width="0.8"/>
<text class="s" x="413.3" y="667.5">10:11am</text>
<circle cx="486.4" cy="664.2" r="5.15" fill="#ffffcc" stroke="#7a7a7a" stroke-width="0.8"/>
<text class="s" x="492.9" y="667.5">11:08am</text>
<circle cx="566.2" cy="664.2" r="5.15" fill="#ffffcc" stroke="#7a7a7a" stroke-width="0.8"/>
<text class="s" x="572.7" y="668.5">12:08pm</text>
<circle cx="646.2" cy="664.2" r="5.15" fill="#ffffcc" stroke="#7a7a7a" stroke-width="0.8"/>
<text class="s" x="652.7" y="668.5">1:11pm</text>
<circle cx="129.7" cy="677.8" r="5.15" fill="#c8c8b0" stroke="#7a7a7a" stroke-width="0.8"/>
<text class="s" x="136.2" y="681.8">7:22pm</text>
<circle cx="208.0" cy="677.8" r="5.15" fill="#c8c8b0" stroke="#7a7a7a" stroke-width="0.8"/>
<text class="s" x="214.5" y="681.8">7:54pm</text>
<circle cx="286.4" cy="677.8" r="5.15" fill="#c8c8b0" stroke="#7a7a7a" stroke-width="0.8"/>
<text class="s" x="292.9" y="681.8">8:27pm</text>
<circle cx="364.8" cy="677.8" r="5.15" fill="#c8c8b0" stroke="#7a7a7a" stroke-width="0.8"/>
<text class="s" x="371.3" y="681.8">9:02pm</text>
<circle cx="443.5" cy="677.8" r="5.15" fill="#c8c8b0" stroke="#7a7a7a" stroke-width="0.8"/>
<text class="s" x="450.0" y="681.8">9:41pm</text>
<circle cx="522.4" cy="677.8" r="5.15" fill="#c8c8b0" stroke="#7a7a7a" stroke-width="0.8"/>
<text class="s" x="528.9" y="681.8">10:25pm</text>
<circle cx="601.8" cy="677.8" r="5.15" fill="#c8c8b0" stroke="#7a7a7a" stroke-width="0.8"/>
<text class="s" x="608.3" y="681.8">11:16pm</text>
<circle cx="681.4" cy="677.8" r="5.15" fill="#c8c8b0" stroke="#7a7a7a" stroke-width="0.8"/>
<text class="s" x="687.9" y="681.0">12:13am</text>
<text class="s" transform="translate(571.8 694.7) scale(0.985 1)">First Quarter | 7:37am</text>
</svg></body></html>
